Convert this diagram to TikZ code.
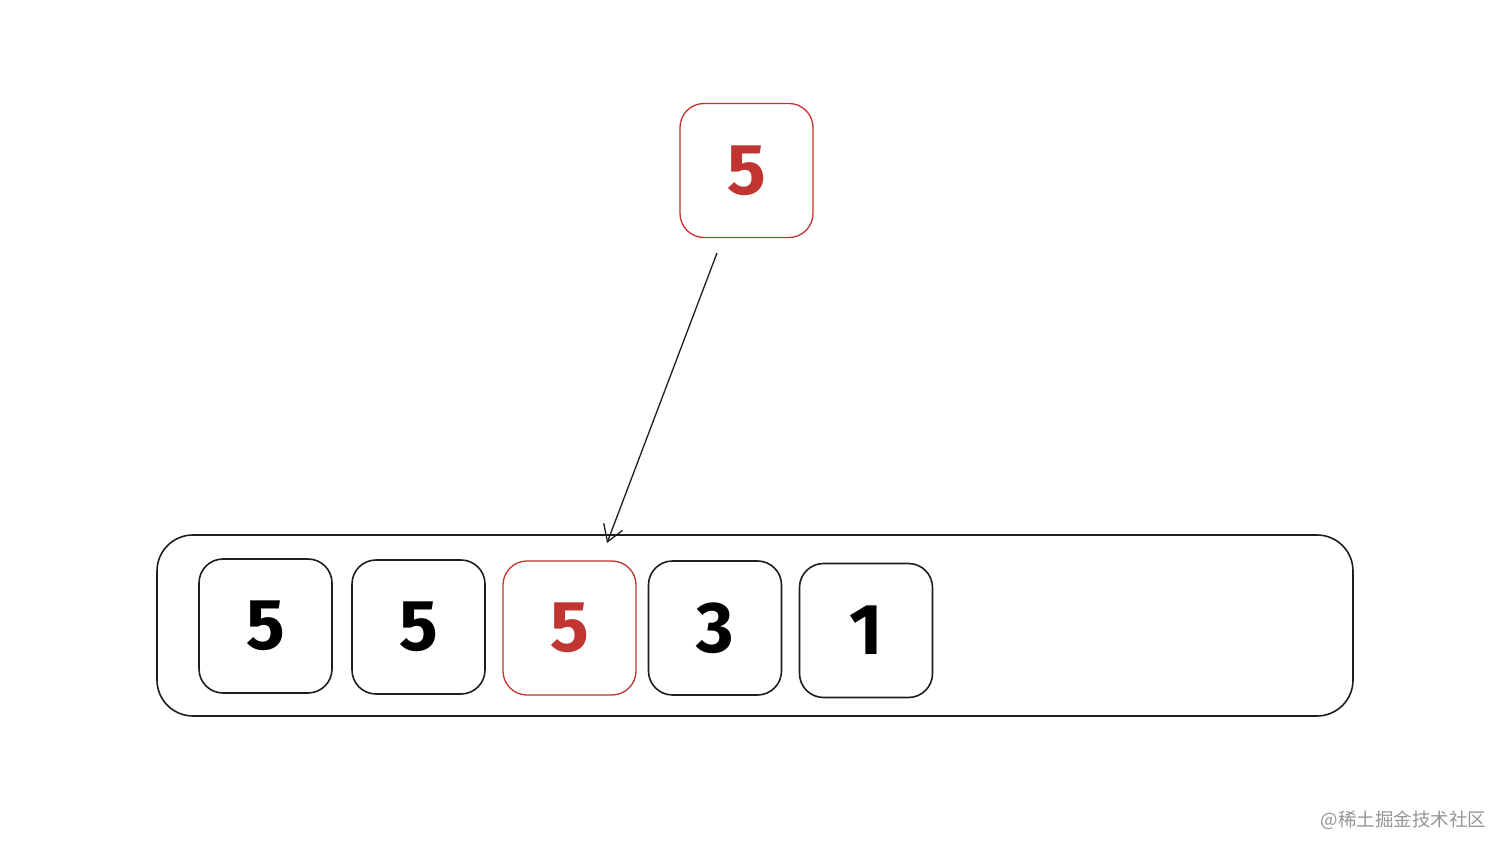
\documentclass[tikz,border=0pt]{standalone}
\usepackage{fontspec}
\setmainfont{Fira Sans}
\newfontfamily\cjk{Noto Sans CJK SC}
\usetikzlibrary{arrows.meta}
\definecolor{myred}{RGB}{192,52,50}
\definecolor{mygray}{RGB}{150,150,150}
\definecolor{myink}{RGB}{30,30,30}
\tikzset{
  cell/.style={draw=myink, line width=1.6pt, rounded corners=24pt,
    minimum width=133pt, minimum height=134pt, inner sep=0pt,
    font=\fontsize{72}{72}\selectfont\bfseries, text=black},
  redcell/.style={cell, draw=myred, line width=1.3pt, text=myred},
  container/.style={draw=myink, line width=1.6pt, rounded corners=36pt,
    minimum width=1196pt, minimum height=181pt, inner sep=0pt},
  pointer/.style={draw=myink, line width=1.3pt, -{Straight Barb[length=16pt,width=20pt,line width=1.3pt]}}
}
\begin{document}
\begin{tikzpicture}[x=1pt,y=1pt]
\useasboundingbox[fill=white] (0,0) rectangle (1512,854);
\node[container] (bar) at (755,228.5) {};
\node[cell] (c1) at (265.5,228) {5};
\node[cell] (c2) at (418.5,227) {5};
\node[redcell] (c3) at (569.5,226) {5};
\node[cell] (c4) at (715,226) {3};
\node[cell] (c5) at (866,223.5) {1};
\node[redcell] (top) at (746.5,683.5) {5};
\coordinate (as) at (717,601);
\coordinate (ae) at (607,311);
\draw[pointer] (as) -- (ae);
\node[text=mygray, font=\cjk\fontsize{18.5}{18.5}\selectfont, anchor=east] (wm) at (1490,34) {@稀土掘金技术社区};
\end{tikzpicture}
\end{document}
